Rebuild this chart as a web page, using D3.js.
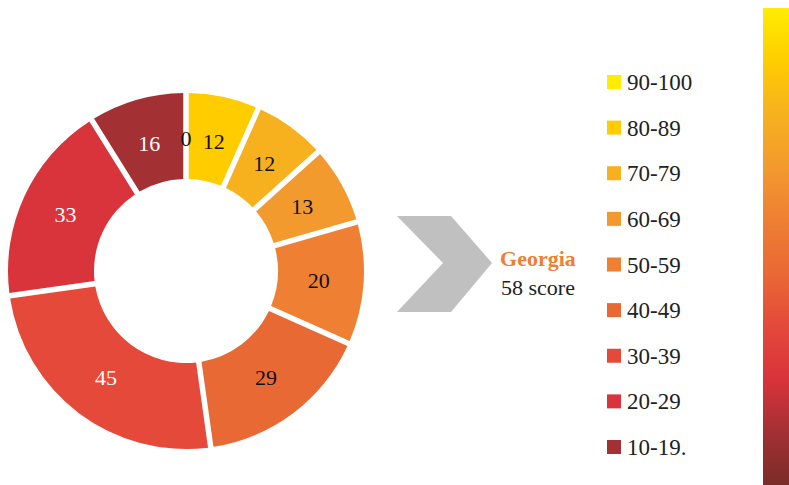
<!DOCTYPE html>
<html><head><meta charset="utf-8">
<script src="https://cdn.jsdelivr.net/npm/d3@7"></script>
<style>body{margin:0;background:#fff}svg{display:block}</style>
</head><body>
<svg id="c" width="789" height="485"></svg>
<script>
const categories = ["90-100","80-89","70-79","60-69","50-59","40-49","30-39","20-29","10-19."];
const values = [0,12,12,13,20,29,45,33,16];
const colors = ["#FFED00","#FFCC00","#F7B11F","#F29A2E","#EE7F33","#E96935","#E4493A","#D9333B","#A33033"];
const labelColors = ["#111","#111","#111","#111","#111","#111","#fff","#fff","#fff"];
const stateName = "Georgia";
const stateScore = "58 score";

const svg = d3.select("#c");
const font = "'Liberation Serif', 'DejaVu Serif', serif";
const cx = 186, cy = 271, R = 178, r = 92;

const pie = d3.pie().sort(null).value(d => d.v);
const data = pie(categories.map((c,i)=>({c, v: values[i], i})));
const arc = d3.arc().innerRadius(r).outerRadius(R).padAngle(5.5/R).padRadius(R);
const labelArc = d3.arc().innerRadius(133).outerRadius(133);

const g = svg.append("g").attr("transform",`translate(${cx},${cy})`);
g.selectAll("path").data(data).join("path")
  .attr("d", arc).attr("fill", d => colors[d.data.i]);
g.selectAll("text").data(data).join("text")
  .attr("transform", d => `translate(${labelArc.centroid(d)})`)
  .attr("text-anchor","middle").attr("dy","0.35em")
  .attr("font-family", font).attr("font-size", 22)
  .attr("fill", d => labelColors[d.data.i])
  .text(d => d.data.v);

// chevron arrow
svg.append("path")
  .attr("d","M397,216 L451,216 L492,263 L451,312 L397,312 L443,263 Z")
  .attr("fill","#C0C0C0");

svg.append("text").attr("x",538).attr("y",266).attr("text-anchor","middle")
  .attr("font-family",font).attr("font-size",22).attr("font-weight","bold")
  .attr("fill","#EE7F33").text(stateName);
svg.append("text").attr("x",538).attr("y",295).attr("text-anchor","middle")
  .attr("font-family",font).attr("font-size",22)
  .attr("fill","#222").text(stateScore);

// legend
const ly = d3.scalePoint().domain(categories).range([82, 447]);
const lg = svg.append("g").selectAll("g").data(categories).join("g")
  .attr("transform", d => `translate(607,${ly(d)})`);
lg.append("rect").attr("x",0).attr("y",-7).attr("width",14).attr("height",14)
  .attr("fill",(d,i)=>colors[i]);
lg.append("text").attr("x",20).attr("dy","0.35em")
  .attr("font-family",font).attr("font-size",23).attr("fill","#222").text(d=>d);

// gradient bar
const defs = svg.append("defs");
const grad = defs.append("linearGradient").attr("id","gb").attr("x1",0).attr("y1",0).attr("x2",0).attr("y2",1);
const gstops = [...colors, "#7A2C28"];
gstops.forEach((c,i)=>{
  grad.append("stop").attr("offset", i/(gstops.length-1)).attr("stop-color", c);
});
svg.append("rect").attr("x",763).attr("y",8).attr("width",26).attr("height",477).attr("fill","url(#gb)");
</script>
</body></html>
